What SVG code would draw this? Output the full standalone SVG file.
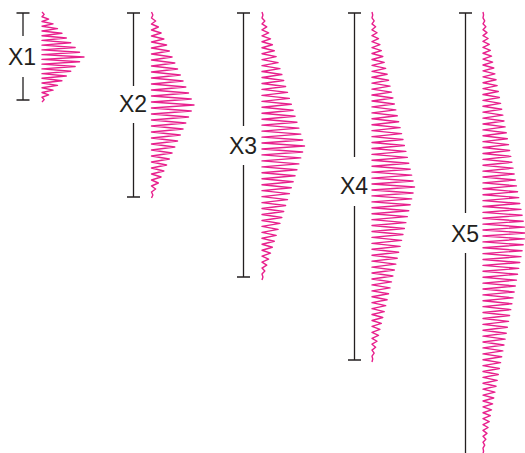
<svg xmlns="http://www.w3.org/2000/svg" xmlns:xlink="http://www.w3.org/1999/xlink" width="525" height="453" viewBox="0 0 525 453">
<style>
.bar{stroke:#231f20;stroke-width:1.3;fill:none}
.lbl{font-family:"Liberation Sans",Arial,sans-serif;font-size:23px;fill:#231f20;text-anchor:middle}
.zz{fill:none;stroke:#e8208d;stroke-width:1.4;stroke-linejoin:round}
</style>
<defs>
<path id="tooth" class="zz" vector-effect="non-scaling-stroke" d="M0,0 L0.5,0.5 0,1 1.5,1.5 0,2 2.5,2.5 0,3 3.5,3.5 0,4 4.5,4.5 0,5 5.5,5.5 0,6 6.5,6.5 0,7 7.5,7.5 0,8 8.5,8.5 0,9 9.5,9.5 0,10 10.5,10.5 0,11 11.5,11.5 0,12 12.5,12.5 0,13 13.5,13.5 0,14 14.5,14.5 0,15 15.5,15.5 0,16 16.5,16.5 0,17 17.5,17.5 0,18 18.5,18.5 0,19 19.5,19.5 0,20 20.5,20.5 0,21 21.5,21.5 0,22 22.5,22.5 0,23 23.5,23.5 0,24 24.5,24.5 0,25 25.5,25.5 0,26 26.5,26.5 0,27 27.5,27.5 0,28 28.5,28.5 0,29 29.5,29.5 0,30 30.5,30.5 0,31 31.5,31.5 0,32 32.5,32.5 0,33 33.5,33.5 0,34 34.5,34.5 0,35 35.5,35.5 0,36 36.5,36.5 0,37 37.5,37.5 0,38 38.5,38.5 0,39 39.5,39.5 0,40"/>
<clipPath id="c1t"><rect x="30" y="0" width="70" height="57"/></clipPath>
<clipPath id="c1b"><rect x="30" y="57" width="70" height="60"/></clipPath>
<clipPath id="c2t"><rect x="140" y="0" width="70" height="105"/></clipPath>
<clipPath id="c2b"><rect x="140" y="105" width="70" height="110"/></clipPath>
<clipPath id="c3t"><rect x="250" y="0" width="70" height="146"/></clipPath>
<clipPath id="c3b"><rect x="250" y="146" width="70" height="150"/></clipPath>
<clipPath id="c4t"><rect x="360" y="0" width="70" height="187"/></clipPath>
<clipPath id="c4b"><rect x="360" y="187" width="70" height="190"/></clipPath>
<clipPath id="c5t"><rect x="470" y="0" width="70" height="233"/></clipPath>
<clipPath id="c5b"><rect x="470" y="233" width="70" height="240"/></clipPath>
</defs>

<g id="node-x1">
<path class="bar" d="M23,13 V36 M23,77 V100 M16.5,13 H29.5 M16.5,100 H29.5"/>
<text class="lbl" x="22" y="65">X1</text>
<g clip-path="url(#c1t)"><use xlink:href="#tooth" transform="translate(42,12) scale(4.42,4.737)"/></g>
<g clip-path="url(#c1b)"><use xlink:href="#tooth" transform="translate(42,102) scale(4.42,-4.737)"/></g>
</g>

<g id="node-x2">
<path class="bar" d="M133.5,13 V86 M133.5,123 V197 M127,13 H140 M127,197 H140"/>
<text class="lbl" x="133" y="112">X2</text>
<g clip-path="url(#c2t)"><use xlink:href="#tooth" transform="translate(151.5,12) scale(2.742,6)"/></g>
<g clip-path="url(#c2b)"><use xlink:href="#tooth" transform="translate(151.5,198) scale(2.742,-6)"/></g>
</g>

<g id="node-x3">
<path class="bar" d="M243.5,13 V126 M243.5,165 V277 M237,13 H250 M237,277 H250"/>
<text class="lbl" x="243" y="154">X3</text>
<g clip-path="url(#c3t)"><use xlink:href="#tooth" transform="translate(262,12) scale(1.889,5.956)"/></g>
<g clip-path="url(#c3b)"><use xlink:href="#tooth" transform="translate(262,280) scale(1.889,-5.956)"/></g>
</g>

<g id="node-x4">
<path class="bar" d="M354.5,13 V157 M354.5,206 V360 M348,13 H361 M348,360 H361"/>
<text class="lbl" x="354" y="194">X4</text>
<g clip-path="url(#c4t)"><use xlink:href="#tooth" transform="translate(372,12) scale(1.441,5.932)"/></g>
<g clip-path="url(#c4b)"><use xlink:href="#tooth" transform="translate(372,362) scale(1.441,-5.932)"/></g>
</g>

<g id="node-x5">
<path class="bar" d="M465.5,13 V213 M465.5,253 V453 M459,13 H472"/>
<text class="lbl" x="465" y="242">X5</text>
<g clip-path="url(#c5t)"><use xlink:href="#tooth" transform="translate(483,12) scale(1.133,5.893)"/></g>
<g clip-path="url(#c5b)"><use xlink:href="#tooth" transform="translate(483,454) scale(1.133,-5.893)"/></g>
</g>

<g id="connectors"></g>
</svg>
